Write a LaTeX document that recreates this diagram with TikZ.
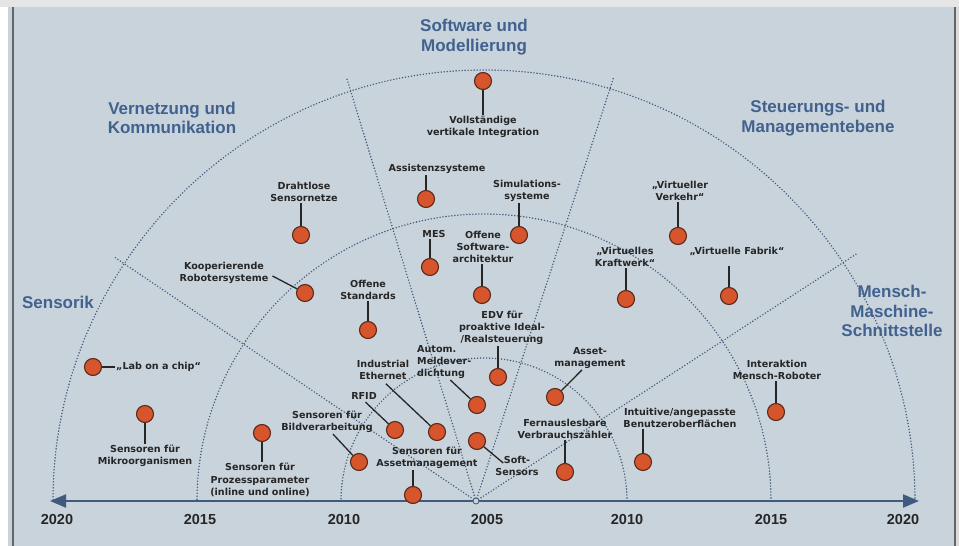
\documentclass[tikz,border=0pt]{standalone}
\usepackage{fontspec}
\setmainfont{DejaVu Sans}
\newfontfamily\areafont{Liberation Sans}
\usetikzlibrary{arrows.meta}

\definecolor{paper}{HTML}{C9D3DB}
\definecolor{areablue}{HTML}{41628E}
\definecolor{guidecol}{HTML}{3F577A}
\definecolor{axiscol}{HTML}{3F5A7C}
\definecolor{pinfill}{HTML}{D7552D}
\definecolor{pinedge}{HTML}{5B2A1A}
\definecolor{ink}{HTML}{262626}

\tikzset{
  guide/.style={draw=guidecol, line width=1.6pt, line cap=round, dash pattern=on 0pt off 3pt},
  pin/.style={circle, draw=pinedge, fill=pinfill, line width=1.1pt, minimum size=17pt, inner sep=0pt},
  lbl/.style={font=\bfseries\fontsize{9.6}{12.3}\selectfont, text=ink, align=center, inner sep=1pt},
  lead/.style={draw=ink, line width=1.3pt},
  area/.style={font=\areafont\bfseries\fontsize{17}{19.5}\selectfont, text=areablue, align=center, inner sep=0pt},
  year/.style={font=\areafont\bfseries\fontsize{14.5}{16}\selectfont, text=ink, inner sep=0pt},
}

\begin{document}
\begin{tikzpicture}[x=1pt, y=-1pt]
  \useasboundingbox (0,0) rectangle (959,546);
  % paper and frame
  \fill[white] (0,0) rectangle (959,546);
  \fill[black!10] (0,0) rectangle (959,7);
  \fill[black!14] (955,7) rectangle (959,546);
  \fill[paper] (8,7) rectangle (955,546);
  \draw[black!60, line width=1.2pt] (13,7) -- (13,546);
  \draw[black!60, line width=1.2pt] (955,7) -- (955,546);

  % rings and sectors
  \coordinate (arcc) at (484,501);
  \coordinate (c) at (476,501);
  \draw[guide] ([xshift=143pt]arcc) arc (0:-180:143);
  \draw[guide] ([xshift=287pt]arcc) arc (0:-180:287);
  \draw[guide] ([xshift=431pt]arcc) arc (0:-180:431);
  \draw[guide] (c) -- ++(-146:435);
  \draw[guide] (c) -- ++(-107:442);
  \draw[guide] (c) -- ++(-72:444);
  \draw[guide] (c) -- ++(-33:455);

  % time axis
  \coordinate (tl) at (50,501);
  \coordinate (tr) at (919,501);
  \draw[axiscol, line width=2pt, {Triangle[length=16pt,width=13pt]}-{Triangle[length=16pt,width=13pt]}] (tl) -- (tr);
  \node[circle, draw=guidecol, fill=paper, line width=0.8pt, minimum size=6pt, inner sep=0pt] (ctr) at (c) {};

  \node[year] (y20l) at (57,520) {2020};
  \node[year] (y15l) at (200,520) {2015};
  \node[year] (y10l) at (344,520) {2010};
  \node[year] (y05) at (487,520) {2005};
  \node[year] (y10r) at (627,520) {2010};
  \node[year] (y15r) at (771,520) {2015};
  \node[year] (y20r) at (903,520) {2020};

  % sector titles
  \node[area] (tsoft) at (474,37) {Software und\\Modellierung};
  \node[area] (tvern) at (172,118) {Vernetzung und\\Kommunikation};
  \node[area] (tsteu) at (818,118) {Steuerungs- und\\Managementebene};
  \node[area] (tsens) at (58,302) {Sensorik};
  \node[area] (tmms) at (892,311) {Mensch-\\Maschine-\\Schnittstelle};

  % pins
  \node[pin] (vollD) at (483,81) {};
  \node[pin] (assD) at (426,199) {};
  \node[pin] (simD) at (519,235) {};
  \node[pin] (mesD) at (430,267) {};
  \node[pin] (osaD) at (482,295) {};
  \node[pin] (drahtD) at (301,235) {};
  \node[pin] (koopD) at (305,293) {};
  \node[pin] (ostdD) at (368,330) {};
  \node[pin] (verkD) at (678,236) {};
  \node[pin] (kraftD) at (626,299) {};
  \node[pin] (fabD) at (729,296) {};
  \node[pin] (edvD) at (498,377) {};
  \node[pin] (autoD) at (477,405) {};
  \node[pin] (indD) at (437,432) {};
  \node[pin] (rfidD) at (395,430) {};
  \node[pin] (bildD) at (359,462) {};
  \node[pin] (prozD) at (262,433) {};
  \node[pin] (samD) at (413,495) {};
  \node[pin] (softD) at (477,441) {};
  \node[pin] (assetD) at (555,397) {};
  \node[pin] (fernD) at (565,472) {};
  \node[pin] (intD) at (643,462) {};
  \node[pin] (mrD) at (776,412) {};
  \node[pin] (labD) at (93,367) {};
  \node[pin] (mikroD) at (145,414) {};

  % labels
  \node[lbl] (vollL) at (483,127) {Vollständige\\vertikale Integration};
  \node[lbl] (assL) at (437,169) {Assistenzsysteme};
  \node[lbl] (simL) at (527,191) {Simulations-\\systeme};
  \node[lbl] (mesL) at (434,234) {MES};
  \node[lbl] (osaL) at (483,247) {Offene\\Software-\\architektur};
  \node[lbl] (drahtL) at (304,192) {Drahtlose\\Sensornetze};
  \node[lbl] (koopL) at (224,273) {Kooperierende\\Robotersysteme};
  \node[lbl] (ostdL) at (368,290) {Offene\\Standards};
  \node[lbl] (verkL) at (680,191) {„Virtueller\\Verkehr“};
  \node[lbl] (kraftL) at (625,257) {„Virtuelles\\Kraftwerk“};
  \node[lbl] (fabL) at (737,251) {„Virtuelle Fabrik“};
  \node[lbl] (edvL) at (502,328) {EDV für\\proaktive Ideal-\\/Realsteuerung};
  \node[lbl, anchor=west, align=left] (autoL) at (416,362) {Autom.\\Meldever-\\dichtung};
  \node[lbl] (indL) at (383,370) {Industrial\\Ethernet};
  \node[lbl] (rfidL) at (364,396) {RFID};
  \node[lbl] (bildL) at (327,422) {Sensoren für\\Bildverarbeitung};
  \node[lbl] (prozL) at (260,480) {Sensoren für\\Prozessparameter\\(inline und online)};
  \node[lbl] (samL) at (427,458) {Sensoren für\\Assetmanagement};
  \node[lbl] (softL) at (517,466) {Soft-\\Sensors};
  \node[lbl] (assetL) at (590,358) {Asset-\\management};
  \node[lbl] (fernL) at (565,429) {Fernauslesbare\\Verbrauchszähler};
  \node[lbl] (intL) at (680,418) {Intuitive/angepasste\\Benutzeroberflächen};
  \node[lbl] (mrL) at (777,370) {Interaktion\\Mensch-Roboter};
  \node[lbl, anchor=west] (labL) at (115,367) {„Lab on a chip“};
  \node[lbl] (mikroL) at (145,456) {Sensoren für\\Mikroorganismen};

  % leader lines
  \draw[lead] (vollD) -- (vollD |- vollL.north);
  \draw[lead] (assD) -- (assD |- assL.south);
  \draw[lead] (simD) -- (simD |- simL.south);
  \draw[lead] (mesD) -- (mesD |- mesL.south);
  \draw[lead] (osaD) -- (osaD |- osaL.south);
  \draw[lead] (drahtD) -- (drahtD |- drahtL.south);
  \draw[lead] (ostdD) -- (ostdD |- ostdL.south);
  \draw[lead] (verkD) -- (verkD |- verkL.south);
  \draw[lead] (kraftD) -- (kraftD |- kraftL.south);
  \draw[lead, shorten >=10pt] (fabD) -- (fabD |- fabL.south);
  \draw[lead] (edvD) -- (edvD |- edvL.south);
  \draw[lead] (prozD) -- (prozD |- prozL.north);
  \draw[lead] (samD) -- (samD |- samL.south);
  \draw[lead] (fernD) -- (fernD |- fernL.south);
  \draw[lead] (intD) -- (intD |- intL.south);
  \draw[lead] (mrD) -- (mrD |- mrL.south);
  \draw[lead] (mikroD) -- (mikroD |- mikroL.north);
  \draw[lead] ([shift={(3pt,-3pt)}]koopL.east) -- (koopD);
  \draw[lead, shorten <=4pt] (indL.south) -- (indD);
  \draw[lead, shorten <=2pt] (rfidL.south) -- (rfidD);
  \draw[lead] ([xshift=6pt]bildL.south) -- (bildD);
  \draw[lead] ([xshift=6pt]autoL.south) -- (autoD);
  \draw[lead] ([shift={(9pt,3pt)}]softL.west) -- (softD);
  \draw[lead] ([xshift=-8pt]assetL.south) -- (assetD);
  \draw[lead] (labL.west) -- (labD);
\end{tikzpicture}
\end{document}
